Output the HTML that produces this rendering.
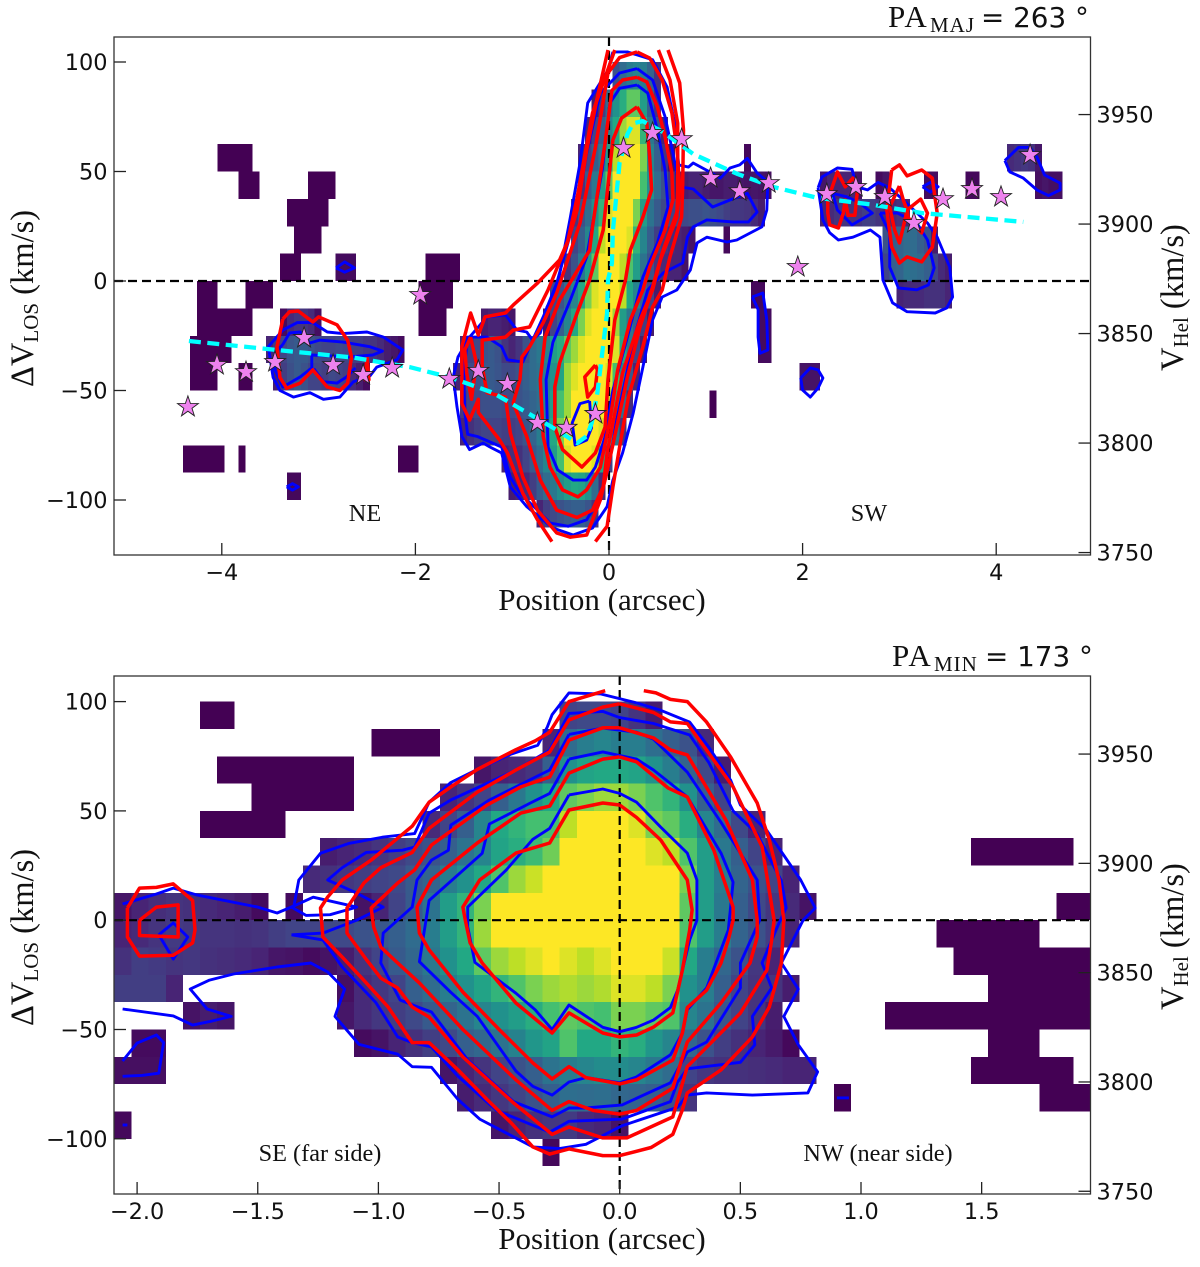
<!DOCTYPE html>
<html lang="en">
<head>
<meta charset="utf-8">
<title>PV diagrams along major and minor axes</title>
<style>
html,body{margin:0;padding:0;background:#fff;}
svg{display:block;}
.serif{font-family:"Liberation Serif",serif;fill:#111;}
.sans{font-family:"DejaVu Sans",sans-serif;fill:#111;}
</style>
</head>
<body>
<svg id="figure" xmlns="http://www.w3.org/2000/svg" width="1200" height="1267" viewBox="0 0 1200 1267">
  <defs>
    <clipPath id="clip-major"><rect x="114" y="37" width="976" height="518"/></clipPath>
    <clipPath id="clip-minor"><rect x="114" y="676" width="976" height="518"/></clipPath>
  </defs>
  <g id="major-panel"></g>
  <g id="minor-panel"></g>

  <text y="27"><tspan class="serif" font-size="31" letter-spacing="2" x="888">PA</tspan><tspan class="serif" font-size="21" letter-spacing="1" x="930" dy="5">MAJ</tspan><tspan class="sans" font-size="27.8" x="981" dy="-5">= 263 °</tspan></text>
  <text y="666"><tspan class="serif" font-size="31" letter-spacing="2" x="892">PA</tspan><tspan class="serif" font-size="21" letter-spacing="1" x="934" dy="5">MIN</tspan><tspan class="sans" font-size="27.8" x="985" dy="-5">= 173 °</tspan></text>

  <text class="serif" x="602" y="610" font-size="31" text-anchor="middle">Position (arcsec)</text>
  <text class="serif" x="602" y="1249" font-size="31" text-anchor="middle">Position (arcsec)</text>

  <text class="serif" transform="translate(33,387) rotate(-90)" font-size="32.5">ΔV<tspan font-size="21" dy="5">LOS</tspan><tspan dy="-5"> (km/s)</tspan></text>
  <text class="serif" transform="translate(33,1026) rotate(-90)" font-size="32.5">ΔV<tspan font-size="21" dy="5">LOS</tspan><tspan dy="-5"> (km/s)</tspan></text>
  <text class="serif" transform="translate(1183,371) rotate(-90)" font-size="32.5">V<tspan font-size="21" dy="5">Hel</tspan><tspan dy="-5"> (km/s)</tspan></text>
  <text class="serif" transform="translate(1183,1010) rotate(-90)" font-size="32.5">V<tspan font-size="21" dy="5">Hel</tspan><tspan dy="-5"> (km/s)</tspan></text>

  <text class="serif" x="365" y="521" font-size="24.3" text-anchor="middle">NE</text>
  <text class="serif" x="869" y="521" font-size="24.3" text-anchor="middle">SW</text>
  <text class="serif" x="320" y="1161" font-size="24.3" text-anchor="middle">SE (far side)</text>
  <text class="serif" x="878" y="1161" font-size="24.3" text-anchor="middle">NW (near side)</text>
</svg>

<script>
/* ---------- shared tick values ---------- */
const velocityTicks = [-100, -50, 0, 50, 100];
const helioTicks = [3750, 3800, 3850, 3900, 3950];
const systemicVelocity = 3874;
const majorPositionTicks = [-4, -2, 0, 2, 4];
const minorPositionTicks = [-2, -1.5, -1, -0.5, 0, 0.5, 1, 1.5];

/* ---------- viridis anchors ---------- */
const viridisStops = ['#440154','#482475','#414487','#355f8d','#2a788e','#21918c','#22a884','#44bf70','#7ad151','#bddf26','#fde725'];

/* ---------- major-axis heatmap: channel lower edges and spaxel runs
   run = [firstSpaxel, [intensities...]] or [firstSpaxel, lastSpaxel, intensity] */
const channelEdges = [87.5,75,62.5,50,37.5,25,12.5,0,-12.5,-25,-37.5,-50,-62.5,-75,-87.5,-100,-112.5];
const majorRuns = [
 [[1,[.25,.35,.42,.45,.42,.32,.15]]],
 [[-2,[.08,.18,.35,.5,.62,.75,.75,.55,.3,.15]]],
 [[-3,[.1,.2,.3,.45,.6,.85,.95,.95,.65,.4,.25,.1]]],
 [[-56,-52,0],[-4,[.1,.2,.3,.4,.55,.9,1,1,1,.8,.45,.3,.15,.05]],[20,20,.02],[58,[.12,.14,.16,.14,.06]]],
 [[-53,-51,0],[-43,-40,0],[-4,[.15,.28,.4,.55,.75,1,1,1,1,.7,.5,.35,.25,.15,.08,.08,.1,.1,.08,.06,.06,.08,.08,.06,.05,.06,.05,.04]],[31,[.06,.1,.1,.1,.1,.05]],[39,[.03,.06]],[46,47,.03],[52,53,.02],[62,[.04,.06,.04,.04]]],
 [[-46,-41,0],[-5,[.15,.25,.35,.5,.65,.95,1,1,1,.8,.55,.38,.28,.22,.2,.22,.22,.24,.24,.26,.24,.22,.18,.16,.16,.15,.12,.08]],[31,[.1,.12,.15,.15,.15,.15,.18,.18,.15,.12,.12,.15,.1]]],
 [[-45,-42,0],[-5,[.2,.3,.45,.6,.9,1,1,1,.95,.65,.45,.3,.18,.15,.12,.1,.08,.05]],[17,17,.02],[40,[.25,.3,.32,.35,.35,.3,.25,.08]]],
 [[-47,-45,0],[-39,-37,.03],[-26,-22,0],[-6,[.15,.25,.4,.55,.75,1,1,1,.9,.72,.55,.38,.25,.15,.12,.1,.1,.05]],[40,[.2,.3,.32,.38,.36,.34,.3,.2,.12,.08]]],
 [[-59,-57,0],[-52,-49,0],[-27,-23,0],[-8,[.2,.25,.35,.45,.6,.8,.95,1,1,1,.9,.6,.45,.32,.2,.08]],[21,22,.02],[42,[.1,.12,.12,.12,.14,.14,.14,.1]]],
 [[-59,-52,0],[-47,[.03,.12,.15,.15,.12,.04]],[-27,-24,0],[-18,[.08,.1,.1,.08,.06]],[-9,[.05,.2,.3,.45,.6,.8,.95,1,1,1,.85,.55,.4,.3,.18,.08]],[22,23,.03]],
 [[-60,-55,0],[-49,[.1,.16,.2,.26,.28,.28,.25,.22,.2,.2,.22,.2,.18,.18,.16,.15,.12,.08,.06,.03]],[-21,[.1,.18,.22,.26,.28,.25,.15,.1,.15,.25,.35,.4,.45,.55,.62,.75,.85,.95,1,1,1,1,.95,.6,.4,.2,.08]],[22,23,.03]],
 [[-60,-57,0],[-53,-52,0],[-48,[.08,.18,.24,.28,.25,.2,.2,.18,.22,.2,.18,.12,.08,.03]],[-22,[.1,.2,.22,.25,.28,.28,.26,.22,.22,.25,.3,.35,.38,.42,.5,.58,.85,.95,1,1,1,1,.95,.7,.45,.28,.1]],[28,30,.05]],
 [[-21,[.16,.2,.22,.24,.24,.24,.22,.22,.25,.28,.32,.36,.45,.55,.7,.85,1,1,1,1,1,.9,.6,.35,.12]],[15,15,0]],
 [[-21,[.1,.14,.18,.2,.2,.2,.18,.18,.2,.26,.32,.42,.5,.6,.8,1,1,1,1,1,.95,.7,.4,.15]]],
 [[-61,-56,0],[-53,-53,0],[-30,-28,0],[-15,[.1,.14,.14,.2,.28,.35,.45,.55,.7,.95,1,1,1,.95,.6,.2]]],
 [[-46,-45,.02],[-14,[.08,.1,.12,.18,.28,.35,.4,.48,.55,.6,.58,.5,.35,.12]]],
 [[-10,[.1,.18,.22,.25,.28,.3,.3,.26,.15]]]
];

/* ---------- minor-axis heatmap ---------- */
const minorRuns = [
 [[-24,-23,0],[-3,[.2,.22,.22,.2,.15,.08]]],
 [[-14,-11,0],[-4,[.1,.35,.42,.45,.42,.42,.36,.3,.25,.12]]],
 [[-23,-16,0],[-8,[.06,.1,.12,.15,.3,.5,.58,.6,.6,.58,.5,.42,.32,.22,.08]]],
 [[-21,-16,0],[-10,[.1,.15,.2,.3,.4,.5,.6,.75,.8,.85,.85,.8,.72,.65,.5,.3,.2]]],
 [[-24,-20,0],[-11,[.12,.2,.3,.45,.6,.65,.7,.7,.9,1,1,1,.95,.8,.75,.62,.45,.35,.22,.1]]],
 [[-17,[.08,.1,.12,.15,.18,.22,.25,.3,.38,.45,.58,.62,.68,.78,1,1,1,1,1,.95,.9,.72,.55,.4,.3,.2,.1]],[21,26,0]],
 [[-18,[.12,.14,.16,.18,.2,.22,.28,.32,.42,.5,.6,.72,.85,.92,1,1,1,1,1,1,1,1,.8,.55,.42,.32,.25,.2,.1]]],
 [[-29,[.06,.1,.13,.15,.14,.12,.1,.08,.03]],[-19,-19,.03],[-15,[.05,.1,.2,.28,.38,.55,.65,.8,1,1,1,1,1,1,1,1,1,1,1,.75,.55,.4,.3,.22,.16,.12,.05]],[26,27,0]],
 [[-29,[.1,.12,.15,.17,.16,.15,.15,.14,.15,.18,.2,.2,.22,.22,.25,.27,.3,.35,.42,.55,.65,.85,1,1,1,1,1,1,1,1,1,1,1,.72,.55,.42,.32,.25,.18,.1]],[19,24,0]],
 [[-29,[.14,.18,.17,.15,.16,.14,.13,.12,.1,.06,.05,.03,.05,.08,.15,.2,.28,.33,.4,.5,.6,.75,.85,.9,.95,1,.95,.9,.95,1,1,1,.92,.6,.42,.33,.25,.16,.1]],[20,27,0]],
 [[-29,[.18,.18,.18,.1]],[-16,[.04,.12,.16,.2,.3,.35,.42,.5,.58,.65,.72,.8,.85,.88,.85,.88,.95,.95,.9,.8,.5,.42,.3,.2,.15,.15,.08]],[22,27,0]],
 [[-25,[.05,.08,.06]],[-16,[.06,.12,.16,.18,.22,.28,.32,.38,.45,.5,.55,.62,.7,.75,.72,.7,.8,.8,.75,.72,.45,.38,.27,.2,.15,.08]],[16,27,0]],
 [[-28,-27,.03],[-15,[.03,.05,.1,.14,.18,.22,.3,.33,.38,.44,.52,.58,.72,.6,.6,.65,.62,.52,.45,.33,.25,.18,.14,.1,.07,.02]],[22,24,0]],
 [[-29,-27,.04],[-10,[.06,.1,.15,.2,.25,.3,.38,.42,.45,.48,.48,.45,.4,.35,.2,.16,.14,.14,.13,.12,.1,.1]],[21,26,0]],
 [[-9,[.08,.12,.16,.2,.25,.3,.36,.35,.36,.33,.32,.3,.25,.15]],[13,13,0],[25,27,0]],
 [[-29,-29,.02],[-7,[.06,.1,.14,.16,.17,.12,.1,.05]]],
 [[-4,-4,.02]]
];

/* ---------- major-axis contours, [arcsec, km/s] ---------- */
const majRed1 = [[.61,105.5],[.73,90.4],[.77,69],[.76,41.6],[.75,29.2],[.63,11],[.55,-4.1],[.45,-11.9],[.35,-30],[.2,-53],[.11,-75.8],[.04,-94],[-.02,-112],[-.14,-119]];
const majRed1b = [[-.59,-119],[-.74,-109],[-.89,-97],[-1.05,-78.5],[-1.13,-72.6],[-1.35,-60],[-1.35,-54],[-1.44,-63.5],[-1.52,-56],[-1.52,-30],[-1.43,-14.6],[-1.35,-24.7],[-1.28,-16.4],[-1.07,-14.6],[-.99,-11],[-.74,-1],[-.51,9.6],[-.42,18.7],[-.33,32.4],[-.23,59.8],[-.12,84],[-.01,105.5]];
const majRed2 = [[.51,105.5],[.63,91.8],[.71,72],[.71,41.6],[.7,29],[.53,9.6],[.42,-7.3],[.32,-21],[.19,-43.8],[.08,-66.7],[-.01,-85],[-.09,-100],[-.23,-116],[-.4,-117],[-.54,-115],[-.74,-104.6],[-.89,-89.5],[-1.02,-69.4],[-1.07,-53],[-1.26,-51],[-1.31,-39],[-1.31,-27],[-1.07,-25.6],[-.99,-22.4],[-.82,-21],[-.63,-4.1],[-.43,17.4],[-.33,38],[-.17,76.7],[.06,105.5]];
const majRed3 = [[.29,104.6],[.42,101.8],[.55,91.8],[.65,76.7],[.7,61],[.73,43],[.71,32.4],[.55,12.8],[.45,-4],[.32,-17.8],[.14,-42],[.04,-64.8],[-.02,-78.5],[-.06,-94],[-.17,-104.6],[-.33,-108],[-.54,-104.6],[-.71,-90.9],[-.85,-71],[-.99,-55.7],[-.92,-45],[-.9,-34.7],[-.82,-30],[-.68,-19],[-.54,-5.5],[-.3,26.5],[-.14,61],[-.01,95],[.11,102],[.29,104.6]];
const majRed4 = [[.29,93],[.39,90.9],[.5,79.5],[.58,65.8],[.65,49.3],[.66,37],[.58,23.3],[.42,6.4],[.35,-4.1],[.22,-17.8],[.09,-40.6],[.01,-63.5],[-.09,-85],[-.23,-95.4],[-.32,-98.6],[-.48,-95.4],[-.61,-85],[-.68,-71],[-.71,-45],[-.66,-25.6],[-.51,-8.7],[-.2,14],[-.17,24.7],[-.04,63],[.03,87],[.14,91.8],[.29,93]];
const majRed5 = [[.29,79.5],[.39,72],[.42,56.6],[.44,41.6],[.35,29.2],[.22,14],[.17,.5],[.06,-17.8],[-.01,-45],[-.04,-66.7],[-.14,-78.5],[-.28,-85],[-.48,-77],[-.56,-66.7],[-.56,-48.4],[-.51,-37.4],[-.33,-14.6],[-.2,.5],[-.06,23.3],[.04,64.4],[.13,74.4],[.29,79.5]];
const majRedCore = [[-.14,-38.4],[-.25,-43.8],[-.22,-53],[-.14,-48.4],[-.12,-40.6],[-.14,-38.4]];
const majRedInnerClump = [[-1.43,-25.6],[-1.37,-37.4],[-1.42,-54],[-1.47,-42],[-1.49,-31.5],[-1.43,-25.6]];
const majRedNeClump = [[-3.37,-17.4],[-3.3,-14],[-3.21,-13.7],[-3.06,-18.7],[-3,-16.4],[-2.81,-20],[-2.7,-27],[-2.66,-34.7],[-2.7,-46.6],[-2.78,-50],[-2.91,-48.4],[-3.06,-40.6],[-3.19,-46.6],[-3.33,-49],[-3.4,-44],[-3.43,-30],[-3.37,-17.4]];
const majRedNeStub = [[-2.5,-34.7],[-2.52,-45],[-2.48,-45],[-2.5,-34.7]];
const majRedSwA = [[2.26,37],[2.36,49.8],[2.44,43],[2.52,47],[2.57,43],[2.54,30],[2.47,30],[2.44,37],[2.42,31],[2.37,24.2],[2.28,25.6],[2.26,31],[2.26,37]];
const majRedSwB = [[2.92,50.7],[3,53],[3.08,48],[3.23,50.7],[3.34,47],[3.39,31],[3.34,15.5],[3.23,8.7],[3.08,11],[3,8.2],[2.92,15.5],[2.87,32.4],[2.92,50.7]];
const majRedSwC = [[3,43.4],[2.9,33.8],[2.95,23.3],[3,17.4],[3.04,24.7],[3.08,32.4],[3.22,37.4],[3.29,31],[3.23,22],[3.09,29],[3.08,32.4],[3.04,37],[3,43.4]];

const majBlue1 = [[.04,104.6],[.19,104.6],[.45,101],[.6,88.6],[.68,72],[.72,53],[.82,52],[.87,53.9],[1.04,49.8],[1.15,47],[1.25,51.6],[1.35,53],[1.43,56],[1.53,49.3],[1.64,45.2],[1.63,32.4],[1.58,24.7],[1.32,18.7],[1.22,17.8],[1.01,20],[.91,17.4],[.84,5],[.7,-4.1],[.55,-7.3],[.45,-17.8],[.35,-39.3],[.25,-60.3],[.14,-78.5],[.04,-90.9],[-.02,-103],[-.17,-112.8],[-.37,-116],[-.58,-112.8],[-.85,-103],[-1.02,-94],[-1.11,-78.5],[-1.23,-75.8],[-1.3,-74],[-1.44,-77],[-1.52,-71],[-1.57,-57.5],[-1.61,-43.8],[-1.56,-34.7],[-1.44,-25.6],[-1.26,-16.4],[-1.07,-15.5],[-.95,-22.4],[-.85,-23.3],[-.79,-27],[-.71,-23.7],[-.64,-11.9],[-.54,-4],[-.4,29],[-.3,53.9],[-.22,81.3],[-.01,96.3],[.04,104.6]];
const majBlue2 = [[.29,97],[.45,91.8],[.58,75],[.66,58.4],[.73,43],[.87,42],[1.07,33.8],[1.25,37],[1.43,40],[1.53,31.5],[1.44,27],[1.28,27],[1.01,27.9],[.87,24.7],[.81,20],[.76,8.2],[.56,3.7],[.4,-4.1],[.29,-21],[.19,-40.6],[.08,-63.5],[-.01,-86.3],[-.09,-98.6],[-.23,-109],[-.42,-112],[-.61,-110.5],[-.74,-104.6],[-.92,-96.8],[-1.02,-89.5],[-1.11,-75.8],[-1.36,-71],[-1.46,-70],[-1.49,-60],[-1.5,-42],[-1.46,-25.6],[-1.26,-25.6],[-1.11,-30],[-1.05,-36],[-.89,-37],[-.8,-28],[-.68,-16.4],[-.54,-1],[-.33,32.4],[-.23,58.4],[-.09,85.8],[.11,95],[.29,97]];
const majBlue3 = [[.29,89.5],[.4,85.8],[.5,69],[.58,50.7],[.61,33.8],[.5,17.4],[.35,1.8],[.19,-25.6],[.04,-49.8],[-.04,-71],[-.14,-85],[-.23,-90.9],[-.37,-90.9],[-.53,-86.3],[-.63,-75.8],[-.65,-45],[-.58,-28],[-.4,-8.7],[-.23,11],[-.07,50.7],[.01,81.3],[.11,88],[.29,89.5]];
const majBlueCore = [[-.2,-54.8],[-.3,-56],[-.38,-64.8],[-.35,-74.9],[-.23,-72.6],[-.18,-67],[-.2,-54.8]];
const majBlueNeOuter = [[-3.37,-22.4],[-3.22,-19],[-3.06,-19],[-2.91,-23.3],[-2.75,-24],[-2.5,-23.3],[-2.33,-25.6],[-2.13,-31.5],[-2.19,-36],[-2.4,-39.3],[-2.47,-43.4],[-2.64,-46],[-2.78,-53],[-2.95,-54],[-3.09,-51],[-3.26,-53],[-3.4,-50],[-3.47,-44],[-3.52,-30],[-3.37,-22.4]];
const majBlueNeInner = [[-3.37,-29],[-3.3,-23.7],[-3.19,-23.3],[-3.09,-28.3],[-2.99,-27],[-2.75,-27.9],[-2.47,-30],[-2.34,-32],[-2.44,-33.8],[-2.68,-34.7],[-3.07,-33.8],[-3.07,-39.7],[-3.19,-43.8],[-3.37,-48.4],[-3.45,-40.6],[-3.45,-32.9],[-3.37,-29]];
const majBlueNeArc = [[-3.05,-40],[-2.95,-46],[-2.81,-46.6],[-2.71,-43.8],[-2.62,-39.7]];
const majBlueLensA = [[-2.82,6],[-2.73,8.7],[-2.63,6],[-2.73,4],[-2.82,6]];
const majBlueLensB = [[-3.33,-94],[-3.27,-92.5],[-3.21,-94],[-3.27,-95.5],[-3.33,-94]];
const majBlueStrip = [[1.48,-7.3],[1.59,-5.5],[1.63,-17.8],[1.64,-31.5],[1.56,-33],[1.54,-25.6],[1.54,-13],[1.48,-7.3]];
const majBlueLensC = [[1.98,-44.3],[2.08,-39.7],[2.16,-40.6],[2.21,-44.3],[2.16,-48.9],[2.08,-53],[2,-49.8],[1.98,-44.3]];
const majBlueSwOuter = [[2.16,42.5],[2.2,47.5],[2.36,51.6],[2.51,51],[2.56,43],[2.67,41.6],[2.78,45],[2.9,42.5],[3.04,37],[3.29,26.5],[3.39,20],[3.52,6.4],[3.55,-7.3],[3.49,-12.3],[3.37,-14.6],[3.08,-14],[2.93,-10],[2.83,.5],[2.8,20],[2.7,23.3],[2.52,20],[2.37,18.7],[2.28,22],[2.21,27.9],[2.16,42.5]];
const majBlueSwInnerA = [[2.31,40],[2.36,32.4],[2.51,25.6],[2.72,31],[2.59,35.6],[2.46,38.4],[2.31,40]];
const majBlueSwInnerB = [[2.8,31],[2.98,31],[3.18,26.5],[3.29,18.7],[3.36,6],[3.3,-1.8],[3.18,-4],[2.99,-3.2],[2.9,6.4],[2.9,21.9],[2.8,31]];
const majBlueSwLens = [[3.24,43],[3.32,45],[3.4,43],[3.32,40.6],[3.24,43]];
const majBlueFarSw = [[4.09,55],[4.23,61],[4.35,61],[4.42,56.6],[4.5,48.4],[4.66,44.7],[4.66,41.6],[4.54,39],[4.42,41.6],[4.28,47],[4.14,49.8],[4.09,55]];

/* ---------- rotation curve and stars ---------- */
const rotationCurve = [[-4.34,-27.4],[-3.43,-31.5],[-2.64,-35],[-2.06,-39.3],[-1.64,-44],[-1.2,-51],[-.89,-59],[-.54,-68],[-.33,-74],[-.23,-70.8],[-.18,-65],[-.12,-51],[-.02,-14.6],[-.01,.5],[.03,8],[.04,23],[.11,54],[.19,67],[.25,72],[.35,73],[.56,68],[.87,58],[1.32,49],[1.69,43],[2.15,38],[2.7,35],[3.24,31],[4.28,27]];
const starPositions = [-4.35,-4.05,-3.75,-3.45,-3.15,-2.85,-2.54,-2.24,-1.95,-1.65,-1.35,-1.05,-.74,-.44,-.14,.15,.45,.75,1.05,1.35,1.65,1.95,2.25,2.55,2.85,3.15,3.45,3.75,4.05,4.35];
const starVelocities = [-57.5,-38.3,-41.6,-37,-26,-38.4,-42.9,-39.7,-6.4,-44.7,-41,-47,-64.8,-67,-60.7,60.7,67.6,64.8,47,41,44.7,6.4,39.7,42.9,38.4,26.5,37.4,42,38.4,57.5];

/* ---------- minor-axis contours ---------- */
const minRed1 = [[-.06,105],[-.21,100],[-.29,86],[-.35,82],[-.43,78],[-.59,69],[-.7,61],[-.79,54],[-.86,43],[-1.03,27.5],[-1.15,18.4],[-1.21,10.6],[-1.24,5.6],[-1.23,-7.7],[-1.15,-16.9],[-1.05,-28.7],[-.96,-39.7],[-.86,-56],[-.79,-56],[-.67,-68.5],[-.55,-82],[-.45,-92.7],[-.36,-103.7],[-.29,-107],[-.21,-104.6],[-.07,-107.7],[0,-107.7],[.13,-104],[.22,-98],[.26,-86.8],[.28,-79],[.42,-68.5],[.55,-53.4],[.62,-39.7],[.67,-19.6],[.68,0],[.66,18.4],[.62,36.7],[.57,53.6],[.46,74.6],[.36,90.6],[.28,100],[.21,101],[.15,104],[.1,105]];
const minRed2 = [[0,99],[-.07,97.5],[-.21,91.6],[-.29,77],[-.43,68.7],[-.59,58.6],[-.79,42],[-.86,31],[-.99,24],[-1.06,17],[-1.13,5.6],[-1.13,-5.9],[-1.05,-18],[-.99,-26.5],[-.92,-31],[-.86,-39.7],[-.79,-44.3],[-.65,-62.6],[-.44,-83.6],[-.28,-98],[-.21,-94.6],[-.07,-99.6],[.03,-99.6],[.22,-90],[.28,-67],[.5,-42.5],[.61,-22.8],[.63,-9],[.64,0],[.59,33.5],[.47,61],[.28,90],[.21,90.7],[.14,95],[0,99]];
const minRed3 = [[0,88],[-.07,88],[-.21,82.4],[-.29,65.5],[-.41,61],[-.55,52.7],[-.78,34.4],[-.85,23],[-.92,17],[-1.03,5.6],[-1.02,-3],[-.99,-12.3],[-.92,-19.6],[-.83,-28.7],[-.65,-50],[-.43,-73],[-.28,-87],[-.21,-83],[-.11,-87],[0,-88.7],[.07,-87],[.22,-76.8],[.28,-55.7],[.42,-37.9],[.54,-19.6],[.57,-7.7],[.57,0],[.55,18.4],[.44,45.8],[.28,75.6],[.21,77.9],[.14,83.4],[0,88]];
const minRed4 = [[0,74.7],[-.07,73.7],[-.21,67.3],[-.29,52.2],[-.41,49],[-.59,35.3],[-.78,18.4],[-.84,6],[-.83,-5.9],[-.79,-13.6],[-.65,-32.9],[-.5,-50],[-.36,-65.3],[-.28,-72.6],[-.21,-67],[-.14,-72],[0,-74.9],[.07,-73],[.22,-64],[.26,-51.6],[.28,-40],[.36,-32],[.42,-19.6],[.45,-9],[.47,0],[.47,6],[.39,32],[.28,56.4],[.2,60.5],[.07,72.4],[0,74.7]];
const minRed5 = [[0,52.7],[-.07,53.6],[-.21,50.4],[-.29,35.3],[-.43,30.7],[-.58,18.4],[-.65,6],[-.64,0],[-.62,-10.4],[-.57,-19.6],[-.43,-37.9],[-.28,-51.6],[-.21,-42.4],[-.07,-51.6],[0,-53.4],[.07,-52.5],[.14,-48.9],[.22,-42.4],[.26,-22.8],[.29,-4.5],[.3,4.7],[.28,18.4],[.17,36.7],[.07,47],[0,52.7]];
const minRedLoopOuter = [[-2.04,5.6],[-1.99,14.7],[-1.92,15],[-1.85,16.6],[-1.77,9],[-1.76,-4.5],[-1.77,-10.4],[-1.85,-16],[-1.99,-16.4],[-2.04,-7.7],[-2.04,5.6]];
const minRedLoopInner = [[-1.99,0],[-1.92,6],[-1.83,7],[-1.83,-7.7],[-1.99,-7],[-1.99,0]];

const minBlue1 = [[-2.06,7.4],[-1.92,12],[-1.85,14.7],[-1.75,11.5],[-1.5,6],[-1.42,3.3],[-1.35,6.5],[-1.33,18.4],[-1.24,30.6],[-1.12,35.2],[-.98,38],[-.85,39.6],[-.79,54],[-.7,63],[-.59,69],[-.45,76],[-.34,80],[-.3,88.4],[-.28,94],[-.21,104],[-.08,103.5],[.07,99.4],[.17,96],[.29,90.6],[.37,79],[.46,64],[.5,52.7],[.61,41],[.75,18.4],[.81,5.6],[.76,0],[.67,-19.6],[.74,-31.5],[.68,-44],[.74,-57],[.82,-69.4],[.78,-79],[.55,-80],[.36,-79],[.28,-80],[.24,-85.6],[.01,-94],[-.14,-102.5],[-.25,-104.5],[-.36,-103.7],[-.58,-91],[-.67,-82],[-.78,-67.3],[-.86,-67],[-.92,-61.3],[-1.08,-56.8],[-1.18,-44],[-1.14,-31.5],[-1.21,-23.7],[-1.28,-19.6],[-1.42,-21.4],[-1.6,-24.6],[-1.7,-27.4],[-1.78,-31.5],[-1.71,-40.6],[-1.61,-44],[-1.7,-46.4],[-1.77,-48],[-1.85,-43.8],[-2.06,-40.6]];
const minBlueBird = [[-1.36,6],[-1.27,10.5],[-1.09,6],[-1.2,2.5],[-1.3,2.2],[-1.36,6]];
const minBlue2 = [[-1.36,-6.7],[-1.23,-5.9],[-1.09,0],[-.98,6],[-1.09,12.4],[-1.21,18.4],[-1.15,24],[-1.05,31],[-.9,32],[-.85,33.5],[-.79,49],[-.7,55],[-.43,68.7],[-.29,77.8],[-.21,94.6],[-.07,95.5],[0,92.7],[.14,90],[.29,84.7],[.37,72],[.47,50],[.57,39.4],[.67,18],[.69,5.6],[.66,-1.3],[.59,-19.6],[.63,-31],[.55,-44],[.56,-57],[.5,-65],[.28,-68],[.24,-74],[.21,-83],[.01,-91],[-.21,-92],[-.29,-97],[-.51,-87],[-.67,-71.4],[-.78,-58],[-.86,-56],[-.92,-53.4],[-1.01,-37.8],[-1.15,-21.4],[-1.23,-9],[-1.36,-6.7]];
const minBlue3 = [[-.21,85],[-.07,87.9],[.07,86],[.14,82.8],[.28,67.7],[.42,44.8],[.57,18.4],[.58,0],[.5,-19.6],[.5,-31],[.36,-55.7],[.28,-60.3],[.21,-74.4],[.01,-84.5],[-.14,-85.9],[-.21,-85.9],[-.28,-90],[-.44,-83],[-.63,-63.9],[-.78,-42],[-.83,-40],[-.91,-36.5],[-.99,-19.6],[-.98,-5.9],[-.86,6],[-.84,18.4],[-.78,27.5],[-.71,32],[-.7,43.5],[-.54,55],[-.29,68.7],[-.21,85]];
const minBlue4 = [[-.21,73.7],[-.07,77],[.07,73.7],[.14,68.7],[.28,56.4],[.42,30.7],[.47,17.4],[.45,-4.5],[.36,-31],[.28,-41],[.26,-51.6],[.21,-61.6],[.07,-71.7],[0,-74.4],[-.14,-72],[-.21,-74],[-.28,-80],[-.36,-76],[-.43,-69],[-.59,-44],[-.7,-33],[-.83,-19],[-.79,9],[-.57,30.6],[-.54,44],[-.37,53.6],[-.29,58],[-.21,73.7]];
const minBlue5 = [[-.21,57.3],[-.07,60],[0,58],[.07,54],[.17,42.6],[.28,30.7],[.32,18.4],[.32,0],[.29,-9],[.24,-32],[.21,-40],[.14,-45.7],[.07,-49],[0,-51],[-.07,-49],[-.21,-38.8],[-.28,-50],[-.35,-41],[-.43,-33.4],[-.6,-19.3],[-.63,-3],[-.63,6],[-.47,23],[-.36,37],[-.29,42],[-.21,57.3]];
const minBlueTriangle = [[-1.91,-6.7],[-1.85,-1.3],[-1.79,-7.7],[-1.85,-17.8],[-1.91,-6.7]];
const minBlueLowerLeft = [[-2.06,-64.4],[-2,-56.2],[-1.92,-52.5],[-1.89,-56],[-1.91,-70],[-1.98,-71],[-2.06,-71.4]];
const minBlueDotA = [[-2.06,-93.7],[-2.04,-93.7]];
const minBlueDotB = [[.9,-81.3],[.95,-81.3]];

/* ---------- series groupings ---------- */
const majorBlueSeries = [majBlue1,majBlue2,majBlue3,majBlueCore,majBlueNeOuter,majBlueNeInner,majBlueNeArc,majBlueLensA,majBlueLensB,majBlueStrip,majBlueLensC,majBlueSwOuter,majBlueSwInnerA,majBlueSwInnerB,majBlueSwLens,majBlueFarSw];
const majorRedSeries = [majRed1,majRed1b,majRed2,majRed3,majRed4,majRed5,majRedCore,majRedInnerClump,majRedNeClump,majRedNeStub,majRedSwA,majRedSwB,majRedSwC];
const minorBlueSeries = [minBlue1,minBlueBird,minBlue2,minBlue3,minBlue4,minBlue5,minBlueTriangle,minBlueLowerLeft,minBlueDotA,minBlueDotB];
const minorRedSeries = [minRed1,minRed2,minRed3,minRed4,minRed5,minRedLoopOuter,minRedLoopInner];

/* ---------- axis functions ---------- */
const majorX = p => 609 + 96.8 * p;
const majorY = v => 281 - 2.19 * v;
const minorX = p => 619.7 + 241.3 * p;
const minorY = v => 920.2 - 2.186 * v;

const NS = 'http://www.w3.org/2000/svg';
function make(tag, parent) {
  const el = document.createElementNS(NS, tag);
  parent.appendChild(el);
  return el;
}
function viridis(t) {
  const s = Math.max(0, Math.min(1, t)) * (viridisStops.length - 1);
  const i = Math.min(Math.floor(s), viridisStops.length - 2);
  const f = s - i;
  const a = parseInt(viridisStops[i].slice(1), 16);
  const b = parseInt(viridisStops[i + 1].slice(1), 16);
  const mix = sh => Math.round(((a >> sh) & 255) * (1 - f) + ((b >> sh) & 255) * f);
  return 'rgb(' + mix(16) + ',' + mix(8) + ',' + mix(0) + ')';
}
function drawHeatmap(parent, runs, sx, sy, spaxel) {
  const g = make('g', parent);
  
  
  g.setAttribute('shape-rendering', 'crispEdges');
  function cell(k, vel, val) {
    const r = make('rect', g);
    
    
    const x0 = sx((k - 0.5) * spaxel), x1 = sx((k + 0.5) * spaxel);
    const y0 = sy(vel + 12.5), y1 = sy(vel);
    r.setAttribute('x', x0);
    r.setAttribute('y', y0);
    r.setAttribute('width', x1 - x0);
    r.setAttribute('height', y1 - y0);
    r.setAttribute('fill', viridis(val));
  }
  runs.forEach((row, i) => {
    row.forEach(run => {
      if (Array.isArray(run[1])) {
        run[1].forEach((val, j) => cell(run[0] + j, channelEdges[i], val));
      } else {
        for (let k = run[0]; k <= run[1]; k++) cell(k, channelEdges[i], run[2]);
      }
    });
  });
}
function drawLine(parent, pts, sx, sy, name, color, width, dash) {
  const p = make('path', parent);
  
  
  p.setAttribute('d', pts.map((q, i) => (i ? 'L' : 'M') + sx(q[0]).toFixed(1) + ' ' + sy(q[1]).toFixed(1)).join(''));
  p.setAttribute('fill', 'none');
  p.setAttribute('stroke', color);
  p.setAttribute('stroke-width', width);
  p.setAttribute('stroke-linejoin', 'round');
  if (dash) p.setAttribute('stroke-dasharray', dash);
}
function drawGuide(parent, x1, y1, x2, y2, name) {
  const l = make('line', parent);
  
  
  l.setAttribute('x1', x1);
  l.setAttribute('y1', y1);
  l.setAttribute('x2', x2);
  l.setAttribute('y2', y2);
  l.setAttribute('stroke', '#000');
  l.setAttribute('stroke-width', 2.2);
  l.setAttribute('stroke-dasharray', '9 5');
}
function tickMark(parent, x1, y1, x2, y2, name) {
  const l = make('line', parent);
  
  
  l.setAttribute('x1', x1);
  l.setAttribute('y1', y1);
  l.setAttribute('x2', x2);
  l.setAttribute('y2', y2);
  l.setAttribute('stroke', '#222');
  l.setAttribute('stroke-width', 1.3);
}
function tickText(parent, x, y, anchor, str, name) {
  const t = make('text', parent);
  
  
  t.setAttribute('class', 'sans');
  t.setAttribute('font-size', '22.4');
  t.setAttribute('x', x);
  t.setAttribute('y', y);
  t.setAttribute('text-anchor', anchor);
  t.textContent = str;
}
function drawAxes(parent, sx, sy, top, bottom, xTicks, digits) {
  const left = 114, right = 1090.5;
  const frame = make('rect', parent);
  
  
  frame.setAttribute('x', left);
  frame.setAttribute('y', top);
  frame.setAttribute('width', right - left);
  frame.setAttribute('height', bottom - top);
  frame.setAttribute('fill', 'none');
  frame.setAttribute('stroke', '#333');
  frame.setAttribute('stroke-width', 1.3);
  xTicks.forEach(v => {
    tickMark(parent, sx(v), bottom, sx(v), bottom - 12, 'x-axis-tick');
    const s = (v < 0 ? '\u2212' : '') + Math.abs(v).toFixed(digits);
    tickText(parent, sx(v), bottom + 25, 'middle', s, 'x-tick-label');
  });
  velocityTicks.forEach(v => {
    tickMark(parent, left, sy(v), left + 12, sy(v), 'y-axis-tick');
    const s = (v < 0 ? '\u2212' : '') + Math.abs(v);
    tickText(parent, 107.5, sy(v) + 8, 'end', s, 'y-tick-label');
  });
  helioTicks.forEach(v => {
    const y = sy(v - systemicVelocity);
    tickMark(parent, right - 12, y, right, y, 'right-axis-tick');
    tickText(parent, 1096.5, y + 8, 'start', String(v), 'right-tick-label');
  });
}
function drawStar(parent, cx, cy) {
  const s = make('polygon', parent);
  
  
  const pts = [];
  for (let i = 0; i < 10; i++) {
    const r = i % 2 ? 4.3 : 11;
    const a = -Math.PI / 2 + i * Math.PI / 5;
    pts.push((cx + r * Math.cos(a)).toFixed(1) + ',' + (cy + r * Math.sin(a)).toFixed(1));
  }
  s.setAttribute('points', pts.join(' '));
  s.setAttribute('fill', '#ee82ee');
  s.setAttribute('stroke', '#222');
  s.setAttribute('stroke-width', 0.9);
}

/* ---------- major-axis panel ---------- */
const majorPanel = document.getElementById('major-panel');
const majorPlot = make('g', majorPanel);
majorPlot.setAttribute('clip-path', 'url(#clip-major)');
drawHeatmap(majorPlot, majorRuns, majorX, majorY, 0.07154);
drawGuide(majorPlot, 114, majorY(0), 1090, majorY(0), 'zero-velocity-line');
drawGuide(majorPlot, majorX(0), 37, majorX(0), 555, 'zero-position-line');
majorBlueSeries.forEach(s => drawLine(majorPlot, s, majorX, majorY, 'observed-contour', '#0000ff', 2.9));
majorRedSeries.forEach(s => drawLine(majorPlot, s, majorX, majorY, 'model-contour', '#ff0000', 3.5));
drawLine(majorPlot, rotationCurve, majorX, majorY, 'rotation-curve', '#00ffff', 4.3, '12 6.5');
starPositions.forEach((p, i) => drawStar(majorPlot, majorX(p), majorY(starVelocities[i])));
drawAxes(majorPanel, majorX, majorY, 37, 555, majorPositionTicks, 0);

/* ---------- minor-axis panel ---------- */
const minorPanel = document.getElementById('minor-panel');
const minorPlot = make('g', minorPanel);
minorPlot.setAttribute('clip-path', 'url(#clip-minor)');
drawHeatmap(minorPlot, minorRuns, minorX, minorY, 0.07099);
drawGuide(minorPlot, 114, minorY(0), 1090, minorY(0), 'zero-velocity-line');
drawGuide(minorPlot, minorX(0), 676, minorX(0), 1194, 'zero-position-line');
minorBlueSeries.forEach(s => drawLine(minorPlot, s, minorX, minorY, 'observed-contour', '#0000ff', 2.9));
minorRedSeries.forEach(s => drawLine(minorPlot, s, minorX, minorY, 'model-contour', '#ff0000', 3.5));
drawAxes(minorPanel, minorX, minorY, 676, 1194, minorPositionTicks, 1);
</script>
</body>
</html>
